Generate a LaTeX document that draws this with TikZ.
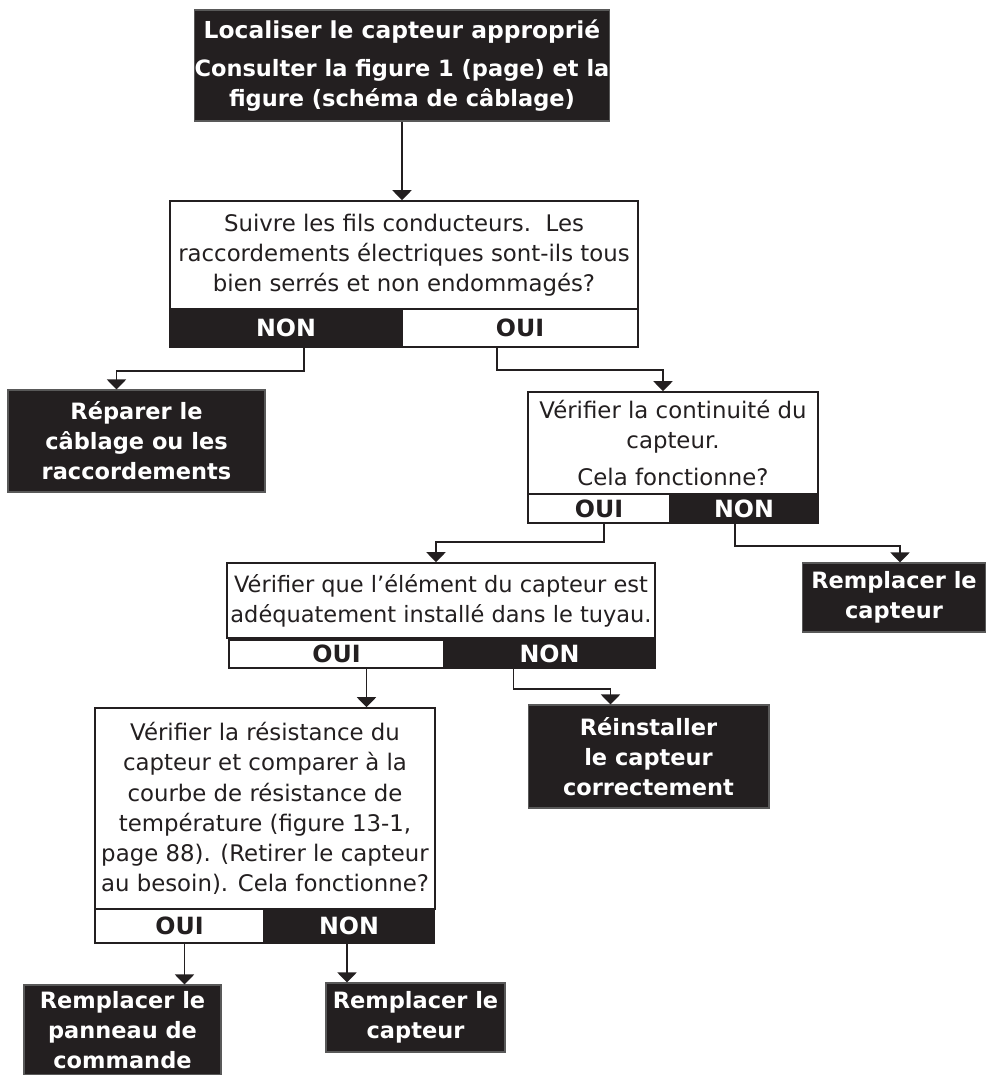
\documentclass[tikz,border=0pt]{standalone}
\usepackage{fontspec}
\setmainfont{DejaVu Sans}
\usetikzlibrary{arrows.meta, calc}
\definecolor{inkdark}{RGB}{35,31,32}

\begin{document}
\begin{tikzpicture}[x=0.02cm, y=-0.02cm,
    darkbox/.style={fill=inkdark, draw=gray!70!black, line width=0.6pt, text=white,
      font=\bfseries\fontsize{12.8}{17}\selectfont, align=center, inner sep=0pt},
    askbox/.style={draw=inkdark, line width=0.9pt, fill=white, text=inkdark,
      font=\fontsize{13}{17.2}\selectfont, align=center, inner sep=0pt},
    nobar/.style={fill=inkdark, draw=inkdark, line width=0.9pt, text=white,
      font=\bfseries\fontsize{13.5}{15}\selectfont, inner sep=0pt},
    yesbar/.style={fill=white, draw=inkdark, line width=0.9pt, text=inkdark,
      font=\bfseries\fontsize{13.5}{15}\selectfont, inner sep=0pt},
    flow/.style={draw=inkdark, line width=1.1pt, -{Triangle[width=0.38cm, length=0.2cm]}}]
  \useasboundingbox (0,0) rectangle (986,1075);

  % boxes
  \node[darkbox, minimum width=8.2cm, minimum height=2.22cm] (locate) at (402,65.5)
    {{\fontsize{13.3}{17}\selectfont Localiser le capteur approprié}\\[5pt]
     Consulter la figure 1 (page) et la\\figure (schéma de câblage)};

  \node[askbox, minimum width=9.36cm, minimum height=2.16cm] (wires) at (404,255)
    {Suivre les fils conducteurs.\ \ Les\\raccordements électriques sont-ils tous\\
     bien serrés et non endommagés?};
  \node[nobar, minimum width=4.64cm, minimum height=0.76cm] (wiresno) at (286,328) {NON};
  \node[yesbar, minimum width=4.72cm, minimum height=0.76cm] (wiresyes) at (520,328) {OUI};

  \node[darkbox, minimum width=5.14cm, minimum height=2.04cm] (repair) at (136.5,441)
    {Réparer le\\câblage ou les\\raccordements};

  \node[askbox, minimum width=5.8cm, minimum height=2.04cm] (continuity) at (673,443)
    {Vérifier la continuité du\\capteur.\\[4pt]Cela fonctionne?};
  \node[yesbar, minimum width=2.84cm, minimum height=0.58cm] (contyes) at (599,508.5) {OUI};
  \node[nobar, minimum width=2.96cm, minimum height=0.58cm] (contno) at (744,508.5) {NON};

  \node[darkbox, minimum width=3.68cm, minimum height=1.38cm] (replaceone) at (894,597.5)
    {Remplacer le\\capteur};

  \node[askbox, font=\fontsize{12.8}{17.2}\selectfont, minimum width=8.56cm, minimum height=1.5cm]
    (mount) at (441,600.5)
    {Vérifier que l’élément du capteur est\\adéquatement installé dans le tuyau.};
  \node[yesbar, minimum width=4.3cm, minimum height=0.56cm] (mountyes) at (336.5,654) {OUI};
  \node[nobar, minimum width=4.22cm, minimum height=0.56cm] (mountno) at (549.5,654) {NON};

  \node[darkbox, minimum width=4.82cm, minimum height=2.06cm] (reinstall) at (648.5,756.5)
    {Réinstaller\\le capteur\\correctement};

  \node[askbox, minimum width=6.8cm, minimum height=4.02cm] (resist) at (265,808.5)
    {Vérifier la résistance du\\capteur et comparer à la\\courbe de résistance de\\
     température (figure 13-1,\\page 88). (Retirer le capteur\\au besoin). Cela fonctionne?};
  \node[yesbar, minimum width=3.38cm, minimum height=0.68cm] (resistyes) at (179.5,926) {OUI};
  \node[nobar, minimum width=3.4cm, minimum height=0.68cm] (resistno) at (349,926) {NON};

  \node[darkbox, minimum width=3.94cm, minimum height=1.8cm] (panel) at (122.5,1030)
    {Remplacer le\\panneau de\\commande};
  \node[darkbox, minimum width=3.58cm, minimum height=1.38cm] (replacetwo) at (415.5,1017.5)
    {Remplacer le\\capteur};

  % connectors
  \coordinate (mountout) at ($(mountyes.south)+(30,0)$);
  \coordinate (resistout) at ($(resistyes.south)+(5,0)$);
  \coordinate (resistnout) at ($(resistno.south)+(-2,0)$);
  \draw[flow] (locate.south) -- (locate.south |- wires.north);
  \draw[flow] ($(wiresno.south)+(18,0)$) -- ++(0,23) -| ($(repair.north)+(-20,0)$);
  \draw[flow] ($(wiresyes.south)+(-23,0)$) -- ++(0,22) -| ($(continuity.north)+(-10,0)$);
  \draw[flow] ($(contyes.south)+(5,0)$) -- ++(0,18) -| ($(mount.north)+(-5,0)$);
  \draw[flow] ($(contno.south)+(-9,0)$) -- ++(0,22) -| ($(replaceone.north)+(6,0)$);
  \draw[flow] (mountout) -- (mountout |- resist.north);
  \draw[flow] ($(mountno.south)+(-36,0)$) -- ++(0,20) -| ($(reinstall.north)+(-38,0)$);
  \draw[flow] (resistout) -- (resistout |- panel.north);
  \draw[flow] (resistnout) -- (resistnout |- replacetwo.north);
\end{tikzpicture}
\end{document}
